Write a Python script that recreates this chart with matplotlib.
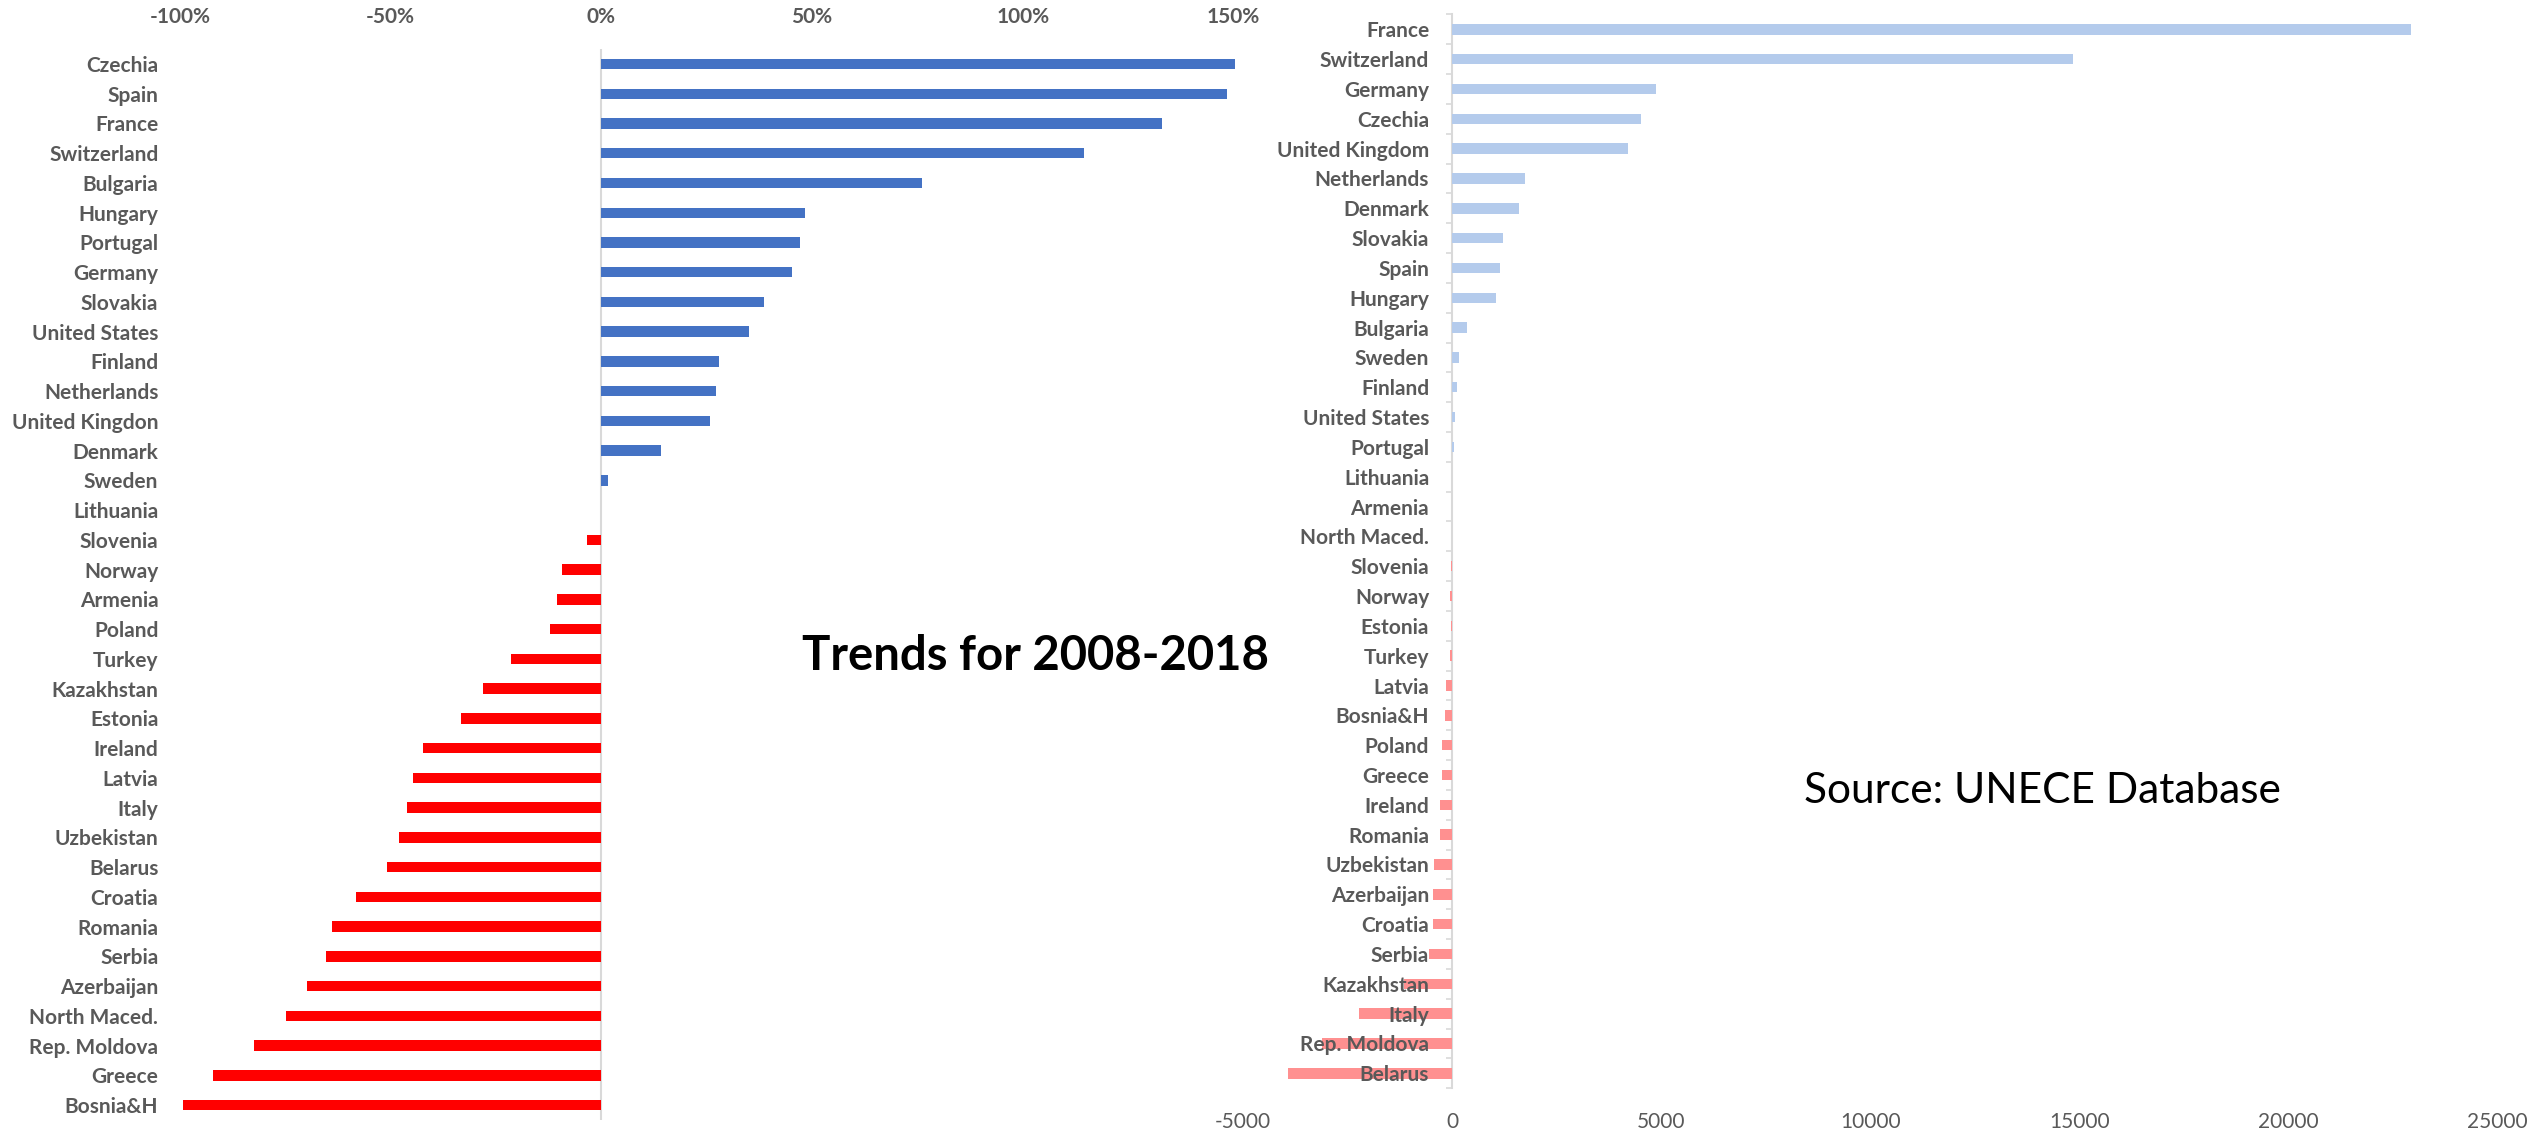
import matplotlib
matplotlib.use("Agg")
import matplotlib.pyplot as plt
import numpy as np

# ---- Data ----
left_countries = ["Czechia", "Spain", "France", "Switzerland", "Bulgaria", "Hungary",
                  "Portugal", "Germany", "Slovakia", "United States", "Finland",
                  "Netherlands", "United Kingdon", "Denmark", "Sweden", "Lithuania",
                  "Slovenia", "Norway", "Armenia", "Poland", "Turkey", "Kazakhstan",
                  "Estonia", "Ireland", "Latvia", "Italy", "Uzbekistan", "Belarus",
                  "Croatia", "Romania", "Serbia", "Azerbaijan", "North Maced.",
                  "Rep. Moldova", "Greece", "Bosnia&H"]
left_pct = [150.4, 148.5, 133.0, 114.5, 76.2, 48.4, 47.1, 45.3, 38.6, 35.1, 27.9,
            27.2, 25.9, 14.2, 1.5, 0.0, -3.4, -9.3, -10.4, -12.1, -21.4, -28.1,
            -33.3, -42.3, -44.7, -46.1, -48.0, -50.9, -58.2, -63.9, -65.3, -69.8,
            -74.8, -82.4, -92.1, -99.2]
left_ticks = [-100, -50, 0, 50, 100, 150]
left_ticklabels = ["-100%", "-50%", "0%", "50%", "100%", "150%"]

right_countries = ["France", "Switzerland", "Germany", "Czechia", "United Kingdom",
                   "Netherlands", "Denmark", "Slovakia", "Spain", "Hungary", "Bulgaria",
                   "Sweden", "Finland", "United States", "Portugal", "Lithuania",
                   "Armenia", "North Maced.", "Slovenia", "Norway", "Estonia", "Turkey",
                   "Latvia", "Bosnia&H", "Poland", "Greece", "Ireland", "Romania",
                   "Uzbekistan", "Azerbaijan", "Croatia", "Serbia", "Kazakhstan",
                   "Italy", "Rep. Moldova", "Belarus"]
right_vals = [22940, 14840, 4880, 4510, 4210, 1750, 1610, 1215, 1155, 1060, 347,
              170, 110, 70, 50, 0, 5, -5, -30, -40, -30, -40, -134, -180, -230,
              -250, -295, -300, -425, -445, -450, -550, -1140, -2230, -3110, -3930]
right_ticks = [-5000, 0, 5000, 10000, 15000, 20000, 25000]

title_text = "Trends for 2008-2018"
source_text = "Source: UNECE Database"

# ---- Style ----
FONT = "Lato"
GRAY = "#595959"
AXGRAY = "#d9d9d9"
W, H = 2542, 1137
fig = plt.figure(figsize=(W / 100, H / 100), dpi=100)

# ---- Right panel (created first so left panel text sits on top) ----
axR = fig.add_axes([1243 / W, 1 - 1088.2 / H, (2497.6 - 1243) / W, (1088.2 - 14.4) / H])
axR.patch.set_visible(False)
for k in ["top", "right", "bottom"]:
    axR.spines[k].set_visible(False)
axR.spines["left"].set_position(("data", 0))
axR.spines["left"].set_color(AXGRAY)
axR.spines["left"].set_linewidth(1.5)
axR.spines["left"].set_zorder(0.5)

yR = np.arange(len(right_countries))
colR = ["#B4CBEC" if v >= 0 else "#FF9090" for v in right_vals]
axR.barh(yR, right_vals, height=0.35, color=colR, zorder=1)
axR.set_xlim(-5000, 25000)
axR.set_ylim(len(right_countries) - 0.5, -0.5)
axR.set_xticks(right_ticks)
axR.set_xticklabels([str(t) for t in right_ticks], fontfamily=FONT,
                    fontsize=15, color=GRAY)
axR.set_yticks(yR)
axR.set_yticklabels(right_countries, fontfamily=FONT, fontweight="bold",
                    fontsize=15, color=GRAY)
axR.set_yticks(np.arange(-0.5, len(right_countries), 1.0), minor=True)
axR.tick_params(axis="y", which="major", length=0, pad=16.5)
axR.tick_params(axis="y", which="minor", length=4.5, width=1.2, color=AXGRAY,
                direction="out")
axR.tick_params(axis="x", length=0, pad=17)

# ---- Left panel ----
axL = fig.add_axes([179.8 / W, 1 - 1120 / H, (1233.5 - 179.8) / W, (1120 - 49.1) / H])
axL.patch.set_visible(False)
yL = np.arange(len(left_countries))
colL = ["#4472C4" if v >= 0 else "#FF0000" for v in left_pct]
axL.barh(yL, left_pct, height=0.35, color=colL, zorder=2)
axL.axvline(0, color=AXGRAY, lw=1.5, zorder=1)
axL.set_xlim(-100, 150)
axL.set_ylim(len(left_countries) - 0.5, -0.5)
axL.set_yticks(yL)
axL.set_yticklabels(left_countries, fontfamily=FONT, fontweight="bold",
                    fontsize=15, color=GRAY)
axL.xaxis.tick_top()
axL.set_xticks(left_ticks)
axL.set_xticklabels(left_ticklabels, fontfamily=FONT, fontweight="bold",
                    fontsize=15, color=GRAY)
axL.tick_params(axis="y", length=0, pad=15.5)
axL.tick_params(axis="x", length=0, pad=16)
for s in axL.spines.values():
    s.set_visible(False)
for b in axL.patches:
    b.set_clip_on(False)

# ---- Annotations ----
fig.text(802 / W, 1 - 670 / H, title_text, fontfamily=FONT, fontweight="bold",
         fontsize=34, color="black", ha="left", va="baseline")
fig.text(1804 / W, 1 - 803 / H, source_text, fontfamily=FONT,
         fontsize=30.5, color="black", ha="left", va="baseline")

fig.savefig("out.png", dpi=100)
